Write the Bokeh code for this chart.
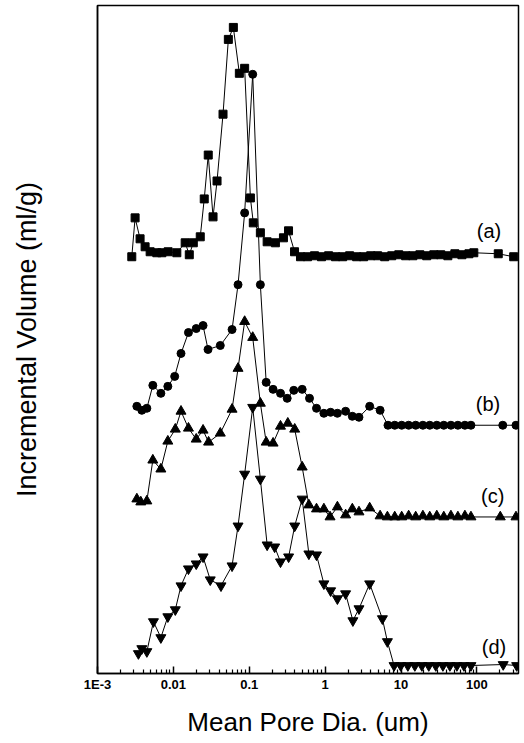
from bokeh.core.properties import value
from bokeh.embed import file_html
from bokeh.models import ColumnDataSource, FixedTicker, Range1d
from bokeh.plotting import figure
from bokeh.resources import INLINE

# Mean pore diameter (um) and stacked incremental volume (arbitrary, offset curves)
a_x = [0.00283, 0.00313, 0.00364, 0.00424, 0.00494, 0.00605, 0.00705, 0.00853, 0.0111, 0.0143,
       0.0162, 0.0183, 0.0226, 0.0255, 0.0288, 0.0333, 0.0376, 0.0451, 0.053, 0.0617,
       0.074, 0.0869, 0.1035, 0.113, 0.140, 0.172, 0.221, 0.282, 0.329, 0.395,
       0.473, 0.586, 0.724, 0.895, 1.11, 1.37, 1.70, 2.10, 2.60, 3.21,
       3.98, 4.92, 6.09, 7.54, 9.33, 11.5, 14.3, 17.7, 21.8, 27.0,
       33.4, 41.4, 51.2, 63.4, 78.4, 91.0, 191, 305]
a_y = [41.8, 45.7, 43.6, 42.8, 42.3, 42.2, 42.2, 42.3, 42.2, 43.2,
       42.0, 43.2, 43.8, 47.6, 52.0, 45.8, 49.4, 56.1, 63.6, 64.8,
       60.2, 60.7, 47.7, 45.2, 44.2, 43.3, 43.2, 43.7, 44.4, 42.3,
       41.8, 41.8, 41.9, 41.8, 41.9, 41.8, 41.8, 41.9, 41.8, 41.8,
       41.9, 41.9, 41.8, 41.9, 42.0, 41.9, 41.9, 42.0, 41.9, 42.0,
       42.0, 41.9, 42.1, 42.0, 42.1, 42.2, 42.1, 41.8]

b_x = [0.0033, 0.00384, 0.00447, 0.00536, 0.00684, 0.00845, 0.0104, 0.0126, 0.0158, 0.020,
       0.0246, 0.0286, 0.0415, 0.0593, 0.0711, 0.0869, 0.111, 0.140, 0.167, 0.206,
       0.258, 0.316, 0.386, 0.498, 0.622, 0.769, 0.962, 1.18, 1.45, 1.86,
       2.28, 2.79, 3.86, 5.30, 6.73, 8.26, 10.2, 12.6, 15.6, 19.4,
       23.9, 29.6, 36.6, 45.4, 56.1, 69.4, 83.4, 219, 327]
b_y = [26.8, 26.4, 26.6, 28.9, 28.1, 28.8, 29.8, 32.1, 34.2, 34.6,
       34.9, 32.5, 32.9, 34.5, 39.0, 46.2, 60.1, 39.0, 29.2, 28.5,
       28.1, 27.6, 28.4, 28.5, 27.6, 26.6, 26.1, 26.2, 26.1, 26.3,
       25.8, 25.7, 26.8, 26.4, 24.9, 24.9, 24.9, 24.9, 24.9, 24.9,
       24.9, 24.9, 24.9, 24.9, 24.9, 24.9, 24.9, 24.9, 24.9]

c_x = [0.0033, 0.00372, 0.00447, 0.00536, 0.00684, 0.00845, 0.0106, 0.0126, 0.0158, 0.020,
       0.0246, 0.0291, 0.0415, 0.0593, 0.0711, 0.0869, 0.111, 0.140, 0.167, 0.206,
       0.258, 0.322, 0.397, 0.498, 0.610, 0.769, 0.962, 1.16, 1.45, 1.86,
       2.28, 2.79, 3.86, 5.30, 6.61, 8.26, 10.2, 12.6, 15.6, 19.4,
       23.9, 29.6, 36.6, 45.4, 56.1, 69.4, 83.4, 203, 327]
c_y = [17.5, 17.2, 17.3, 21.4, 20.5, 23.3, 24.5, 26.3, 24.6, 23.5,
       24.4, 23.2, 24.1, 26.5, 30.6, 35.3, 33.7, 27.1, 23.2, 23.1,
       24.8, 25.1, 24.5, 20.7, 16.9, 16.5, 16.5, 15.7, 16.7, 15.9,
       16.5, 16.2, 16.6, 15.8, 15.7, 15.7, 15.7, 15.8, 15.7, 15.8,
       15.7, 15.8, 15.7, 15.8, 15.7, 15.8, 15.7, 15.7, 15.7]

d_x = [0.00346, 0.00384, 0.00447, 0.00546, 0.00684, 0.00845, 0.0106, 0.0126, 0.0158, 0.020,
       0.0246, 0.0306, 0.0424, 0.0593, 0.0711, 0.0869, 0.111, 0.140, 0.172, 0.216,
       0.258, 0.330, 0.397, 0.498, 0.610, 0.769, 0.962, 1.18, 1.45, 1.86,
       2.32, 2.79, 3.86, 5.68, 6.61, 8.09, 9.9, 12.3, 15.2, 18.8,
       23.2, 28.7, 35.6, 44.0, 54.4, 67.3, 83.4, 222, 334]
d_y = [2.0, 2.5, 2.2, 5.2, 3.6, 5.7, 6.4, 8.8, 10.5, 11.0,
       11.7, 9.4, 8.8, 10.8, 14.8, 20.0, 26.7, 19.5, 12.9, 12.7,
       11.2, 11.7, 14.8, 17.5, 12.0, 11.9, 9.0, 8.3, 7.5, 8.0,
       5.3, 6.5, 9.0, 5.5, 3.2, 0.8, 0.8, 0.8, 0.8, 0.8,
       0.8, 0.8, 0.8, 0.8, 0.8, 0.8, 0.8, 0.9, 0.8]

curve_labels = ["(a)", "(b)", "(c)", "(d)"]
label_x = [144, 140, 161, 168]
label_y = [44.4, 27.0, 17.8, 2.7]

major_ticks = [0.001, 0.01, 0.1, 1, 10, 100]
tick_labels = ["1E-3", "0.01", "0.1", "1", "10", "100"]

FONT = "Liberation Sans"

p = figure(width=524, height=743, x_axis_type="log",
           x_range=Range1d(0.001, 353), y_range=Range1d(0, 67.0),
           output_backend="svg", toolbar_location=None, tools="",
           min_border_left=97, min_border_right=6, min_border_top=5, min_border_bottom=70,
           background_fill_color="white", border_fill_color="white")

series = [(a_x, a_y, "square", 8), (b_x, b_y, "circle", 8),
          (c_x, c_y, "triangle", 10), (d_x, d_y, "inverted_triangle", 10)]
for xs, ys, marker, size in series:
    src = ColumnDataSource(data=dict(x=xs, y=ys))
    p.line("x", "y", source=src, line_color="black", line_width=1)
    p.scatter("x", "y", source=src, marker=marker, size=size,
              fill_color="black", line_color="black")

lab_src = ColumnDataSource(data=dict(x=label_x, y=label_y, t=curve_labels))
p.text("x", "y", text="t", source=lab_src, text_font=value(FONT), text_font_size="20px",
       text_align="center", text_baseline="middle", text_color="black")

minor = [m * 10.0 ** k for k in range(-3, 3) for m in range(2, 10) if m * 10.0 ** k < 353]
p.xaxis.ticker = FixedTicker(ticks=major_ticks, minor_ticks=minor)
p.xaxis.major_label_overrides = {t: s for t, s in zip(major_ticks, tick_labels)}
p.xaxis.major_tick_in = 7
p.xaxis.major_tick_out = 0
p.xaxis.minor_tick_in = 4
p.xaxis.minor_tick_out = 0
p.xaxis.major_tick_line_width = 1.5
p.xaxis.minor_tick_line_width = 1.2
p.xaxis.major_label_standoff = 3
p.xaxis.major_label_text_font = FONT
p.xaxis.major_label_text_font_size = "13px"
p.xaxis.major_label_text_font_style = "bold"
p.xaxis.major_label_text_color = "black"
p.xaxis.axis_label = "Mean Pore Dia. (um)"
p.xaxis.axis_label_standoff = 12

p.yaxis.ticker = FixedTicker(ticks=[])
p.yaxis.major_tick_in = 0
p.yaxis.major_tick_out = 0
p.yaxis.minor_tick_out = 0
p.yaxis.major_label_text_font_size = "0px"
p.yaxis.axis_label = "Incremental Volume (ml/g)"
p.yaxis.axis_label_standoff = 56

for ax in (p.xaxis, p.yaxis):
    ax.axis_label_text_font = FONT
    ax.axis_label_text_font_style = "normal"
    ax.axis_label_text_color = "black"
    ax.axis_line_color = "black"
    ax.axis_line_width = 1.5
    ax.major_tick_line_color = "black"
    ax.minor_tick_line_color = "black"
p.xaxis.axis_label_text_font_size = "26px"
p.yaxis.axis_label_text_font_size = "27px"

p.grid.visible = False
p.outline_line_color = "black"
p.outline_line_width = 1.5
p.outline_line_alpha = 1

open("out.html", "w").write(file_html(p, INLINE))
